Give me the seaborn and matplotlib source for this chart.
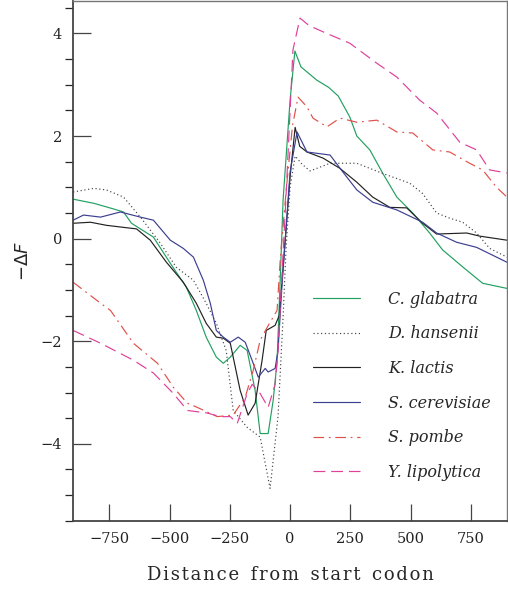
import numpy as np
import pandas as pd
import matplotlib
matplotlib.use("Agg")
import matplotlib.pyplot as plt
import seaborn as sns
from matplotlib.ticker import MultipleLocator

# species names as in the legend
species = ["C. glabatra", "D. hansenii", "K. lactis", "S. cerevisiae", "S. pombe", "Y. lipolytica"]

# values (x = distance from start codon, y = -dF)
glab_x = [-900, -815, -733, -691, -658, -621, -567, -497, -430, -389, -348, -306, -277, -248, -207, -178, -145, -124, -91, -70, -54, -41, -29, 0, 20, 45, 111, 160, 200, 248, 277, 331, 385, 443, 509, 579, 633, 716, 799, 900]
glab_y = [0.77, 0.69, 0.58, 0.52, 0.30, 0.19, 0.03, -0.48, -0.95, -1.4, -1.92, -2.31, -2.43, -2.31, -2.08, -2.18, -2.96, -3.8, -3.8, -3.15, -2.4, -0.81, 0.75, 2.7, 3.66, 3.35, 3.09, 2.95, 2.78, 2.37, 2.0, 1.73, 1.27, 0.81, 0.50, 0.11, -0.22, -0.55, -0.87, -0.97]

hans_x = [-900, -815, -762, -691, -621, -538, -472, -401, -348, -306, -265, -236, -178, -124, -83, -50, -29, -17, 0, 21, 50, 83, 166, 277, 385, 497, 550, 608, 662, 716, 774, 828, 900]
hans_y = [0.91, 0.98, 0.95, 0.81, 0.42, -0.09, -0.56, -0.81, -1.26, -1.65, -2.18, -3.35, -3.68, -3.87, -4.87, -3.47, -1.53, -0.22, 1.0, 1.61, 1.45, 1.32, 1.47, 1.47, 1.27, 1.08, 0.88, 0.50, 0.40, 0.32, 0.11, -0.19, -0.36]

lact_x = [-900, -828, -762, -691, -637, -580, -513, -443, -389, -348, -306, -277, -248, -207, -174, -145, -116, -99, -62, -45, -33, 0, 21, 40, 70, 137, 207, 277, 343, 414, 484, 550, 608, 733, 786, 900]
lact_y = [0.30, 0.32, 0.26, 0.22, 0.19, -0.03, -0.46, -0.85, -1.26, -1.65, -1.92, -1.94, -2.04, -2.96, -3.44, -3.21, -2.37, -1.79, -1.69, -1.5, -0.81, 1.2, 2.17, 1.8, 1.69, 1.57, 1.37, 1.10, 0.81, 0.61, 0.60, 0.30, 0.09, 0.11, 0.05, -0.03]

cere_x = [-900, -857, -786, -704, -621, -567, -497, -443, -401, -360, -331, -306, -277, -248, -215, -186, -153, -132, -103, -91, -62, -50, -33, 0, 29, 70, 166, 219, 277, 343, 443, 550, 608, 691, 774, 900]
cere_y = [0.36, 0.46, 0.42, 0.52, 0.42, 0.36, -0.03, -0.19, -0.36, -0.81, -1.26, -1.79, -1.92, -2.02, -1.92, -2.02, -2.43, -2.7, -2.53, -2.6, -2.53, -2.18, -0.87, 1.3, 2.08, 1.69, 1.63, 1.30, 0.95, 0.71, 0.56, 0.32, 0.11, -0.07, -0.17, -0.46]

pomb_x = [-900, -786, -745, -650, -550, -484, -426, -385, -302, -236, -186, -153, -124, -95, -54, -41, -15, 10, 33, 70, 95, 153, 207, 277, 360, 443, 509, 592, 662, 745, 799, 857, 900]
pomb_y = [-0.85, -1.26, -1.4, -2.04, -2.43, -2.9, -3.21, -3.29, -3.47, -3.44, -3.09, -2.57, -1.98, -1.73, -1.40, -0.42, 1.0, 2.2, 2.76, 2.57, 2.35, 2.18, 2.35, 2.27, 2.31, 2.08, 2.06, 1.73, 1.69, 1.47, 1.34, 1.0, 0.81]

lipo_x = [-900, -786, -650, -567, -484, -426, -344, -290, -248, -219, -178, -157, -124, -91, -62, -50, -17, 12, 41, 80, 153, 248, 360, 443, 538, 608, 704, 774, 828, 900]
lipo_y = [-1.79, -2.04, -2.37, -2.62, -3.02, -3.35, -3.4, -3.47, -3.47, -3.6, -3.02, -2.84, -3.02, -3.29, -2.84, -2.18, 0.8, 3.68, 4.3, 4.15, 4.0, 3.81, 3.42, 3.15, 2.70, 2.45, 1.88, 1.73, 1.34, 1.28]

xs = [glab_x, hans_x, lact_x, cere_x, pomb_x, lipo_x]
ys = [glab_y, hans_y, lact_y, cere_y, pomb_y, lipo_y]
colors = ["#22a060", "#444444", "#222222", "#3b3f8f", "#e0504a", "#e0409a"]
dashes = ["-", (0, (1, 2.2)), "-", "-", (0, (9, 4, 1.5, 4)), (0, (10, 5))]

df = pd.concat([pd.DataFrame({"x": x, "y": y, "species": s}) for s, x, y in zip(species, xs, ys)])

sns.set_style("ticks")
plt.rcParams["font.family"] = ["DejaVu Serif"]

fig = plt.figure(figsize=(5.08, 5.93), dpi=100)
ax = fig.add_axes([0.144, 0.121, 0.854, 0.877])

for s, c, ls in zip(species, colors, dashes):
    sub = df[df["species"] == s]
    sns.lineplot(data=sub, x="x", y="y", ax=ax, color=c, linestyle=ls, linewidth=0.85, label=s, sort=False)

ax.set_xlim(-900, 900)
ax.set_ylim(-5.51, 4.63)
ax.set_xticks([-750, -500, -250, 0, 250, 500, 750])
ax.yaxis.set_major_locator(MultipleLocator(2))
ax.yaxis.set_minor_locator(MultipleLocator(0.5))
ax.tick_params(axis="both", direction="in", colors="#444444", labelcolor="#222222", labelsize=10.5)
ax.tick_params(axis="x", which="major", length=12, width=0.9, pad=8, top=False)
ax.tick_params(axis="y", which="major", length=13, width=0.9, pad=8, right=False)
ax.tick_params(axis="y", which="minor", length=6, width=0.9, right=False)
for side in ["left", "bottom"]:
    ax.spines[side].set_linewidth(1.3)
    ax.spines[side].set_color("#444444")
for side in ["top", "right"]:
    ax.spines[side].set_linewidth(1.0)
    ax.spines[side].set_color("#777777")

ax.set_xlabel("D i s t a n c e   f r o m   s t a r t   c o d o n".replace(" ", "\u200a").replace("\u200a\u200a\u200a", "  "), fontsize=13, labelpad=14)
ax.set_ylabel("$-\\Delta F$", fontsize=13, labelpad=6)

leg = ax.legend(loc="upper left", bbox_to_anchor=(0.553, 0.443), frameon=False, prop={"style": "italic", "size": 11.5},
                handlelength=2.95, handletextpad=1.75, labelspacing=1.1, borderpad=0, borderaxespad=0)

fig.savefig("out.png", dpi=100)
